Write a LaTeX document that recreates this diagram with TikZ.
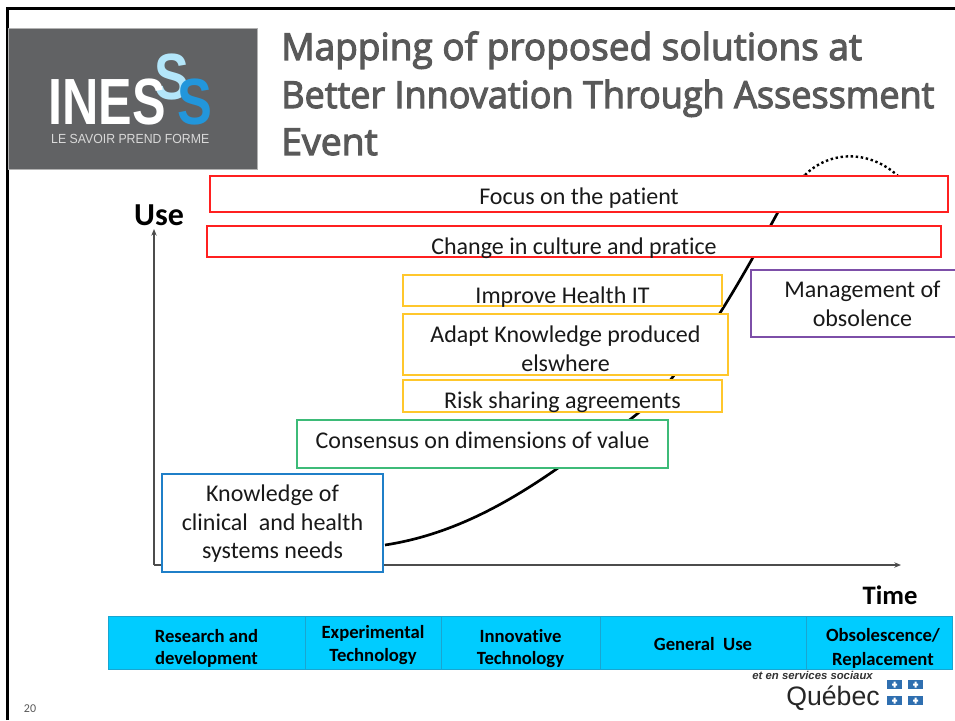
\documentclass[tikz,border=0pt]{standalone}
\usepackage{fontspec}
\setmainfont{Carlito}[Ligatures=NoCommon]
\newfontfamily\titlefont{Open Sans}[FakeBold=3]
\newfontfamily\logofont{Liberation Sans}
\definecolor{logogrey}{HTML}{616264}
\definecolor{titlegrey}{HTML}{595959}
\definecolor{redb}{HTML}{FF2020}
\definecolor{yellowb}{HTML}{FFC72C}
\definecolor{greenb}{HTML}{3DBB78}
\definecolor{blueb}{HTML}{1F7FC8}
\definecolor{purpleb}{HTML}{7D4FA8}
\definecolor{barc}{HTML}{00CCFF}
\definecolor{barl}{HTML}{1AA5D0}
\definecolor{qcblue}{HTML}{2F6FB0}
\newcommand{\pbox}[7]{%
  \pgfmathsetmacro{\pw}{(#4-#2)*0.75}%
  \pgfmathsetmacro{\ph}{(#5-#3)*0.75}%
  \node[#6,minimum width=\pw pt,minimum height=\ph pt] (#1) at ({(#2+#4)/2},{(#3+#5)/2}) {#7};}
\newcommand{\dn}[2]{\raisebox{-#1pt}[\height][\depth]{#2}}
\tikzset{
  px/.style={x=0.75pt,y=-0.75pt},
  labelbox/.style={draw,fill=white,line width=0.9pt,inner sep=0pt,align=center,font=\fontsize{18}{21.5}\selectfont,text=black!90},
  phase/.style={draw=barl,fill=barc,line width=0.5pt,inner sep=0pt,align=center,font=\fontsize{14}{17.3}\selectfont\bfseries,text=black},
  axis/.style={draw=black!70,line width=0.9pt,-{Stealth[length=5pt,width=4pt]}},
  axislabel/.style={font=\fontsize{20}{22}\selectfont\bfseries,text=black},
  titleline/.style={anchor=base west,font=\titlefont\fontsize{28}{30}\selectfont,text=titlegrey,inner sep=0pt},
  logoletter/.style={anchor=base west,inner sep=0pt,font=\logofont\fontsize{49}{49}\selectfont\bfseries},
}
\usetikzlibrary{arrows.meta}
\begin{document}
\begin{tikzpicture}[px]
\useasboundingbox (0,0) rectangle (955,720);
\fill[white] (0,0) rectangle (955,720);
% slide frame
\draw[black,line width=2pt] (7.5,720) -- (7.5,8.5) -- (955,8.5);
% logo
\pbox{logo}{8}{28}{257}{169}{draw=black!30,fill=logogrey,line width=0.5pt,inner sep=0pt}{}
\node[logoletter,text=cyan!30!white,xscale=0.8] (s1) at (154,100) {S};
\node[logoletter,text=cyan!75!blue!90!white,xscale=0.8] (s2) at (177,125) {S};
\node[logoletter,text=white,xscale=0.77] (ines) at (48,125) {INES};
\node[anchor=base west,inner sep=0pt,text=white!85!black,font=\logofont\fontsize{9.9}{10}\selectfont,xscale=0.93] (tag) at (51,144) {LE SAVOIR PREND FORME};
% title
\node[titleline,xscale=0.99] (t1) at (281,60) {Mapping of proposed solutions at};
\node[titleline,xscale=0.965] (t2) at (281,108) {Better Innovation Through Assessment};
\node[titleline] (t3) at (281,155) {Event};
% adoption curve
\coordinate (c0) at (385,545);
\coordinate (c3) at (558,468);
\coordinate (c5) at (672,378);
\coordinate (c6) at (720,313);
\coordinate (c8) at (778,212);
\coordinate (d0) at (805,175);
\coordinate (d1) at (898,176);
\draw[black,line width=2pt] (c0) .. controls (450,535) and (505,505) .. (c3)
  .. controls (600,439) and (640,420) .. (c5)
  .. controls (688,356) and (705,337) .. (c6)
  .. controls (742,278) and (760,245) .. (c8) -- (d0);
\draw[black,line width=1.8pt,dotted] (d0) .. controls (830,150) and (870,150) .. (d1);
% axes
\coordinate (o) at (154,565);
\coordinate (ytip) at (154,229);
\coordinate (xtip) at (901,565);
\draw[axis] (o) -- (ytip);
\draw[axis] (o) -- (xtip);
\node[axislabel,font=\fontsize{24}{26}\selectfont\bfseries] (use) at (159,215) {Use};
\node[axislabel] (time) at (890,595) {Time};
% boxes
\pbox{focus}{210}{176}{948}{212}{labelbox,draw=redb}{\dn{3}{Focus on the patient}}
\pbox{culture}{207}{226}{941}{257}{labelbox,draw=redb}{\dn{5.2}{Change in culture and pratice}}
\pbox{it}{403}{275}{722}{306}{labelbox,draw=yellowb}{\dn{4.8}{Improve Health IT}}
\pbox{adapt}{403}{314}{728}{375}{labelbox,draw=yellowb}{\dn{3.4}{\shortstack{Adapt Knowledge produced\\[3pt]elswhere}}}
\pbox{risk}{403}{380}{722}{412}{labelbox,draw=yellowb}{\dn{5}{Risk sharing agreements}}
\pbox{consensus}{297}{420}{668}{468}{labelbox,draw=greenb}{\dn{-2.7}{Consensus on dimensions of value}}
\pbox{know}{162}{474}{383}{572}{labelbox,draw=blueb}{\dn{1}{\begin{tabular}{@{}c@{}}Knowledge of\\clinical\ \ and health\\systems needs\end{tabular}}}
\pbox{obs}{751}{270}{958}{337}{labelbox,draw=purpleb}{\hspace*{12pt}\shortstack{Management of\\[3pt]obsolence}}
% phases
\pbox{p1}{108}{616}{305}{669}{phase}{\dn{4.4}{\shortstack{Research and\\[4pt]development}}}
\pbox{p2}{305}{616}{441}{669}{phase}{\dn{2}{\shortstack{Experimental\\[2pt]Technology}}}
\pbox{p3}{441}{616}{600}{669}{phase}{\dn{4.4}{\shortstack{Innovative\\[4pt]Technology}}}
\pbox{p4}{600}{616}{806}{669}{phase}{\dn{1}{General\ \ Use}}
\pbox{p5}{806}{616}{952}{669}{phase}{\hspace*{6pt}\dn{4.4}{\shortstack{Obsolescence/\\[4pt]Replacement}}}
% Quebec signature
\node[anchor=base east,inner sep=0pt,text=black!80,font=\logofont\fontsize{8.5}{9}\selectfont\bfseries\itshape] (svc) at (873,679) {et en services sociaux};
\node[anchor=base east,inner sep=0pt,text=black!85,font=\logofont\fontsize{20}{22}\selectfont] (qc) at (880,705) {Québec};
\foreach \qx in {887,908}{
  \foreach \qy in {680,696}{
    \fill[qcblue] (\qx,\qy) rectangle +(15,9);
    \fill[white] (\qx+5,\qy+3.5) rectangle (\qx+10,\qy+5.5) (\qx+6.5,\qy+1.5) rectangle (\qx+8.5,\qy+7.5);
  }
}
% page number
\node[inner sep=0pt,text=black!65,font=\fontsize{9}{10}\selectfont] (num) at (30,709) {20};
\end{tikzpicture}
\end{document}
